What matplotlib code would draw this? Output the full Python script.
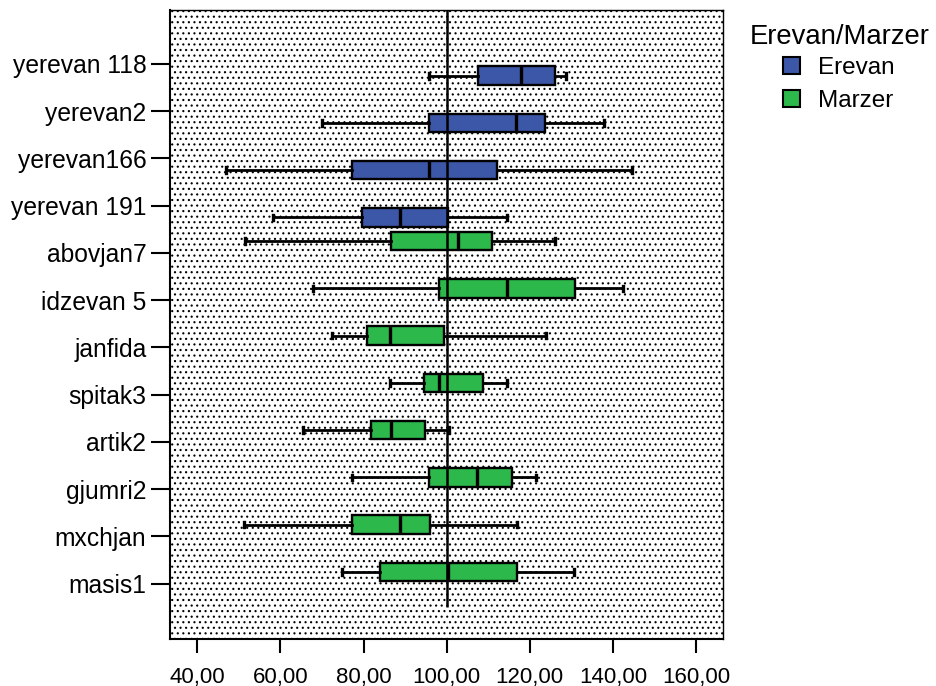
import matplotlib
matplotlib.use("Agg")
import matplotlib.pyplot as plt
from matplotlib.patches import Patch, Rectangle

plt.rcParams['font.family'] = ['Liberation Sans', 'DejaVu Sans']
plt.rcParams['hatch.linewidth'] = 0.8

# Box statistics per sampling site (top to bottom)
sites = ['yerevan 118', 'yerevan2', 'yerevan166', 'yerevan 191', 'abovjan7', 'idzevan 5',
         'janfida', 'spitak3', 'artik2', 'gjumri2', 'mxchjan', 'masis1']
site_group = ['Erevan', 'Erevan', 'Erevan', 'Erevan', 'Marzer', 'Marzer',
              'Marzer', 'Marzer', 'Marzer', 'Marzer', 'Marzer', 'Marzer']
whis_lo = [95.7, 70.0, 46.9, 58.2, 51.5, 67.8, 72.4, 86.4, 65.4, 77.2, 51.2, 74.8]
q1 = [107.5, 95.7, 77.2, 79.6, 86.6, 98.1, 80.8, 94.5, 81.8, 95.7, 77.2, 83.9]
median = [117.9, 116.7, 95.7, 88.8, 102.7, 114.5, 86.4, 98.1, 86.6, 107.3, 88.8, 100.3]
q3 = [126.1, 123.7, 112.1, 100.3, 110.9, 130.9, 99.4, 108.7, 94.8, 115.7, 96.0, 116.9]
whis_hi = [128.7, 137.8, 144.6, 114.5, 126.1, 142.4, 123.9, 114.5, 100.6, 121.5, 116.9, 130.6]

group_names = ['Erevan', 'Marzer']
group_colors = {'Erevan': '#3C57A8', 'Marzer': '#2DB84B'}
group_offset = {'Erevan': 0.25, 'Marzer': -0.25}
ref_value = 100
x_ticks = [40, 60, 80, 100, 120, 140, 160]


def main():
    fig = plt.figure(figsize=(9.36, 6.86), dpi=100)
    ax = fig.add_axes([170 / 936, 1 - 639 / 686, 553.3 / 936, 629 / 686])

    # dotted plot background
    ax.add_patch(Rectangle((0, 0), 1, 1, transform=ax.transAxes, facecolor='white',
                           edgecolor='black', hatch='...', linewidth=0, zorder=0))

    stats = []
    positions = []
    for i, name in enumerate(sites):
        stats.append(dict(label=name, whislo=whis_lo[i], q1=q1[i], med=median[i],
                          q3=q3[i], whishi=whis_hi[i], fliers=[]))
        positions.append(i + group_offset[site_group[i]])

    bp = ax.bxp(stats, positions=positions, widths=0.39, orientation='horizontal',
                patch_artist=True, showfliers=False, capwidths=0.12, manage_ticks=False,
                boxprops=dict(linewidth=1.7, edgecolor='black'),
                medianprops=dict(color='black', linewidth=2.4),
                whiskerprops=dict(color='black', linewidth=2.0),
                capprops=dict(color='black', linewidth=2.4))
    for box, grp in zip(bp['boxes'], site_group):
        box.set_facecolor(group_colors[grp])

    ymin, ymax = -1.14, 12.17
    ax.vlines(ref_value, ymin, 11.5, color='black', linewidth=1.8, zorder=3)

    ax.set_xlim(33.43, 166.57)
    ax.set_ylim(ymax, ymin)
    ax.set_yticks(range(len(sites)))
    ax.set_yticklabels(sites, fontsize=17.7)
    ax.set_xticks(x_ticks)
    ax.set_xticklabels([f"{v:.2f}".replace('.', ',') for v in x_ticks], fontsize=16)
    ax.tick_params(axis='y', length=14, width=1.5, pad=3)
    ax.tick_params(axis='x', length=10, width=1.5, pad=10)
    for side in ['left', 'bottom']:
        ax.spines[side].set_linewidth(1.5)
    for side in ['top', 'right']:
        ax.spines[side].set_linewidth(1.0)

    # legend title drawn on its own so its gap to the entries can be set
    fig.text(840 / 936, 1 - 37 / 686, 'Erevan/Marzer', fontsize=19.8,
             ha='center', va='center')
    handles = [Patch(facecolor=group_colors[g], edgecolor='black', linewidth=1.5, label=g)
               for g in group_names]
    ax.legend(handles=handles, loc='upper left',
              bbox_to_anchor=(783 / 936, 1 - 57 / 686), bbox_transform=fig.transFigure,
              frameon=False, fontsize=17.5, handlelength=0.7,
              handleheight=0.7, handletextpad=0.75, labelspacing=0.45,
              borderpad=0, borderaxespad=0)

    fig.savefig('out.png', dpi=100)


if __name__ == "__main__":
    main()
